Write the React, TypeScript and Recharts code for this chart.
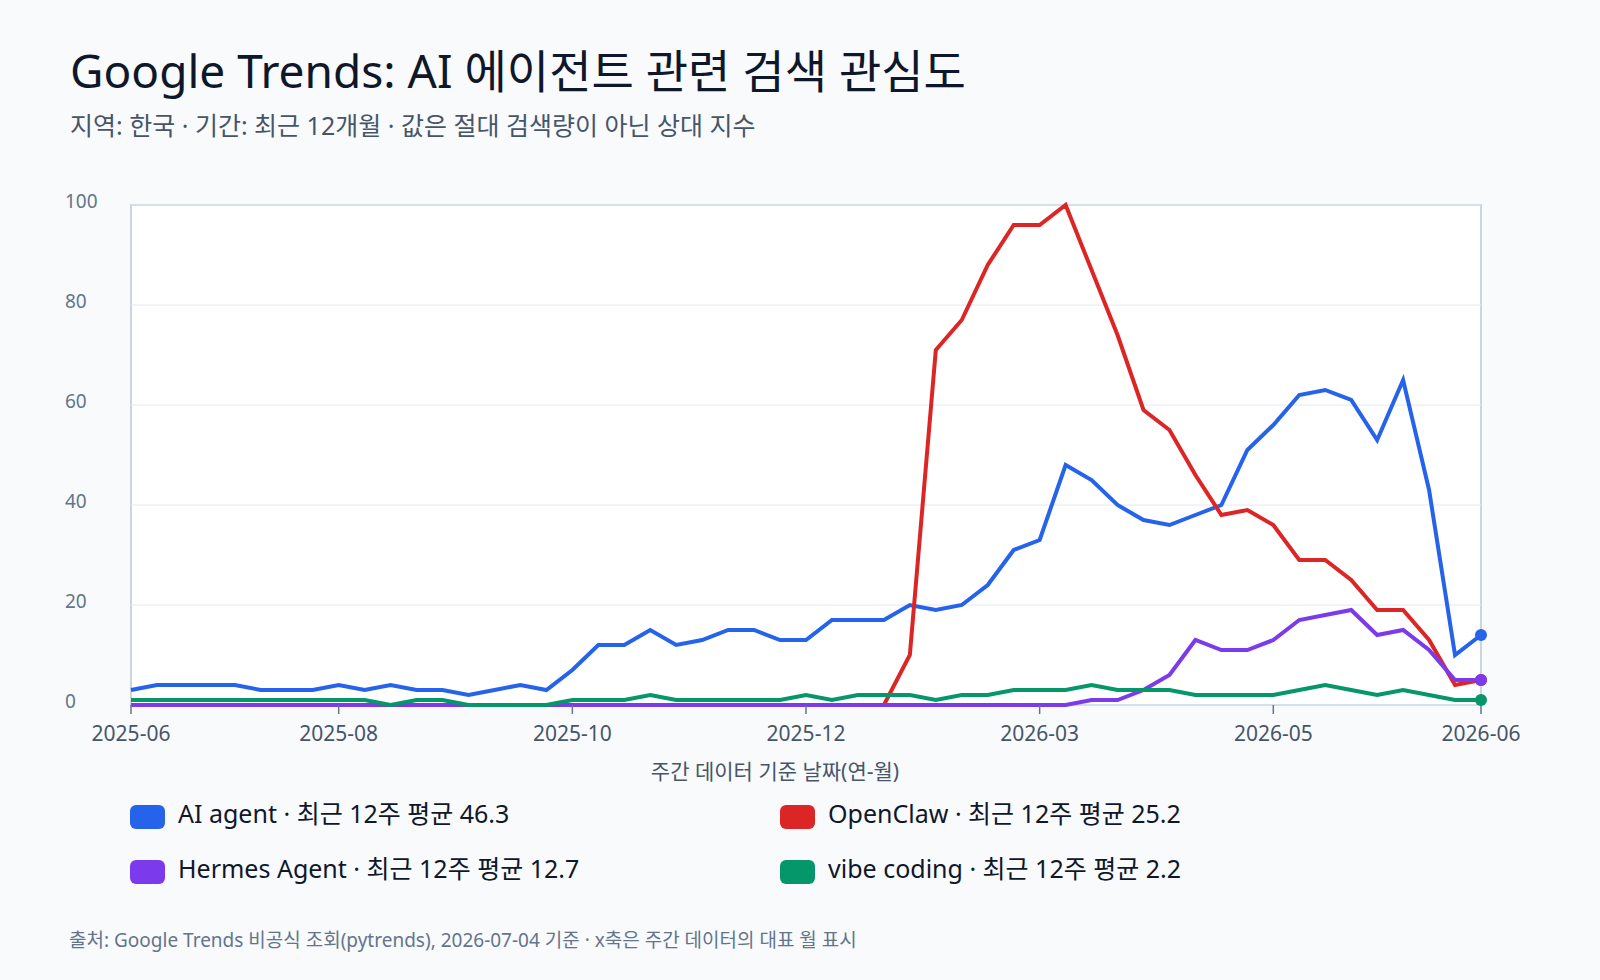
import { LineChart, Line, XAxis, YAxis, CartesianGrid } from "recharts";

const WEEKS = [
  "2025-06-29", "2025-07-06", "2025-07-13", "2025-07-20", "2025-07-27", "2025-08-03", "2025-08-10",
  "2025-08-17", "2025-08-24", "2025-08-31", "2025-09-07", "2025-09-14", "2025-09-21", "2025-09-28",
  "2025-10-05", "2025-10-12", "2025-10-19", "2025-10-26", "2025-11-02", "2025-11-09", "2025-11-16",
  "2025-11-23", "2025-11-30", "2025-12-07", "2025-12-14", "2025-12-21", "2025-12-28", "2026-01-04",
  "2026-01-11", "2026-01-18", "2026-01-25", "2026-02-01", "2026-02-08", "2026-02-15", "2026-02-22",
  "2026-03-01", "2026-03-08", "2026-03-15", "2026-03-22", "2026-03-29", "2026-04-05", "2026-04-12",
  "2026-04-19", "2026-04-26", "2026-05-03", "2026-05-10", "2026-05-17", "2026-05-24", "2026-05-31",
  "2026-06-07", "2026-06-14", "2026-06-21", "2026-06-28",
];

const AI_AGENT = [
  3, 4, 4, 4, 4, 3, 3, 3, 4, 3, 4, 3, 3, 2, 3, 4, 3,
  7, 12, 12, 15, 12, 13, 15, 15, 13, 13, 17, 17, 17, 20, 19, 20, 24, 31, 33,
  48, 45, 40, 37, 36, 38, 40, 51, 56, 62, 63, 61, 53, 65, 43, 10, 14,
];
const OPENCLAW = [
  0, 0, 0, 0, 0, 0, 0, 0, 0, 0, 0, 0, 0, 0, 0, 0, 0, 0, 0, 0, 0, 0, 0, 0, 0, 0, 0, 0, 0, 0,
  10, 71, 77, 88, 96, 96, 100, 87, 74, 59, 55, 46, 38, 39, 36, 29, 29, 25, 19, 19, 13, 4, 5,
];
const HERMES = [
  0, 0, 0, 0, 0, 0, 0, 0, 0, 0, 0, 0, 0, 0, 0, 0, 0, 0, 0, 0, 0, 0, 0, 0, 0, 0, 0, 0, 0, 0,
  0, 0, 0, 0, 0, 0, 0, 1, 1, 3, 6, 13, 11, 11, 13, 17, 18, 19, 14, 15, 11, 5, 5,
];
const VIBE = [
  1, 1, 1, 1, 1, 1, 1, 1, 1, 1, 0, 1, 1, 0, 0, 0, 0, 1,
  1, 1, 2, 1, 1, 1, 1, 1, 2, 1, 2, 2, 2, 1, 2, 2, 3, 3,
  3, 4, 3, 3, 3, 2, 2, 2, 2, 3, 4, 3, 2, 3, 2, 1, 1,
];

const X_TICKS = [0, 8, 17, 26, 35, 44, 52];
const Y_TICKS = [0, 20, 40, 60, 80, 100];

const SERIES = [
  { key: "ai", values: AI_AGENT, color: "#2563eb", label: "AI agent · 최근 12주 평균 46.3" },
  { key: "openclaw", values: OPENCLAW, color: "#dc2626", label: "OpenClaw · 최근 12주 평균 25.2" },
  { key: "hermes", values: HERMES, color: "#7c3aed", label: "Hermes Agent · 최근 12주 평균 12.7" },
  { key: "vibe", values: VIBE, color: "#059669", label: "vibe coding · 최근 12주 평균 2.2" },
];

const FONT = "'Noto Sans', 'Noto Sans CJK KR', sans-serif";
const LAST = WEEKS.length - 1;

const data = WEEKS.map((w, i) => ({
  i,
  week: w,
  ai: AI_AGENT[i],
  openclaw: OPENCLAW[i],
  hermes: HERMES[i],
  vibe: VIBE[i],
}));

// legend layout: 2 columns x 2 rows
const LEGEND_POS = [
  { x: 131, y: 817 },
  { x: 781, y: 817 },
  { x: 131, y: 872 },
  { x: 781, y: 872 },
];

const endDot = (color: string) => (p: any) =>
  p.index === LAST ? (
    <circle key={`dot-${p.index}`} cx={p.cx} cy={p.cy} r={6} fill={color} />
  ) : (
    <g key={`dot-${p.index}`} />
  );

export default function App() {
  return (
    <div
      style={{
        position: "absolute",
        left: 0,
        top: 0,
        width: 1600,
        height: 980,
        background: "#f8fafc",
        fontFamily: FONT,
        overflow: "hidden",
      }}
    >
      <svg width={1600} height={980} style={{ position: "absolute", left: 0, top: 0 }}>
        <text x={70} y={88} fontSize={46} fill="#0f172a" fontFamily={FONT}>
          Google Trends: AI 에이전트 관련 검색 관심도
        </text>
        <text x={70} y={135} fontSize={25} fill="#475569" fontFamily={FONT}>
          지역: 한국 · 기간: 최근 12개월 · 값은 절대 검색량이 아닌 상대 지수
        </text>
        <text x={775} y={779} fontSize={21} fill="#475569" fontFamily={FONT} textAnchor="middle">
          주간 데이터 기준 날짜(연-월)
        </text>
        {SERIES.map((s, k) => (
          <g key={s.key}>
            <rect x={LEGEND_POS[k].x - 1} y={LEGEND_POS[k].y - 12} width={35} height={24} rx={6} fill={s.color} />
            <text
              x={LEGEND_POS[k].x + 47}
              y={LEGEND_POS[k].y + 6}
              fontSize={25}
              fill="#0f172a"
              fontFamily={FONT}
            >
              {s.label}
            </text>
          </g>
        ))}
        <text x={69} y={947} fontSize={19} fill="#64748b" fontFamily={FONT}>
          출처: Google Trends 비공식 조회(pytrends), 2026-07-04 기준 · x축은 주간 데이터의 대표 월 표시
        </text>
      </svg>

      <div
        style={{
          position: "absolute",
          left: 130,
          top: 204,
          width: 1352,
          height: 502,
          boxSizing: "border-box",
          background: "#ffffff",
          border: "2px solid #cbd5e1",
        }}
      />

      <div style={{ position: "absolute", left: 0, top: 0 }}>
        <LineChart width={1600} height={760} data={data} margin={{ top: 205, right: 119, left: 0, bottom: 0 }}>
          <CartesianGrid vertical={false} stroke="#e2e8f0" strokeWidth={1} />
          <XAxis
            type="number"
            dataKey="i"
            domain={[0, LAST]}
            ticks={X_TICKS}
            height={55}
            axisLine={false}
            tickSize={9}
            tickMargin={0}
            tickLine={{ stroke: "#64748b", strokeWidth: 1.5 }}
            tick={(p: any) => (
              <text
                x={p.x}
                y={p.y + 27}
                textAnchor="middle"
                fontSize={21}
                fill="#475569"
                fontFamily={FONT}
              >
                {WEEKS[p.payload.value].slice(0, 7)}
              </text>
            )}
          />
          <YAxis
            type="number"
            domain={[0, 100]}
            ticks={Y_TICKS}
            width={131}
            axisLine={false}
            tickLine={false}
            tick={(p: any) => (
              <text x={65} y={p.y + 3} fontSize={19} fill="#64748b" fontFamily={FONT}>
                {p.payload.value}
              </text>
            )}
          />
          {SERIES.map((s) => (
            <Line
              key={s.key}
              type="linear"
              dataKey={s.key}
              stroke={s.color}
              strokeWidth={4}
              dot={endDot(s.color)}
              activeDot={false}
              isAnimationActive={false}
            />
          ))}
        </LineChart>
      </div>
    </div>
  );
}
